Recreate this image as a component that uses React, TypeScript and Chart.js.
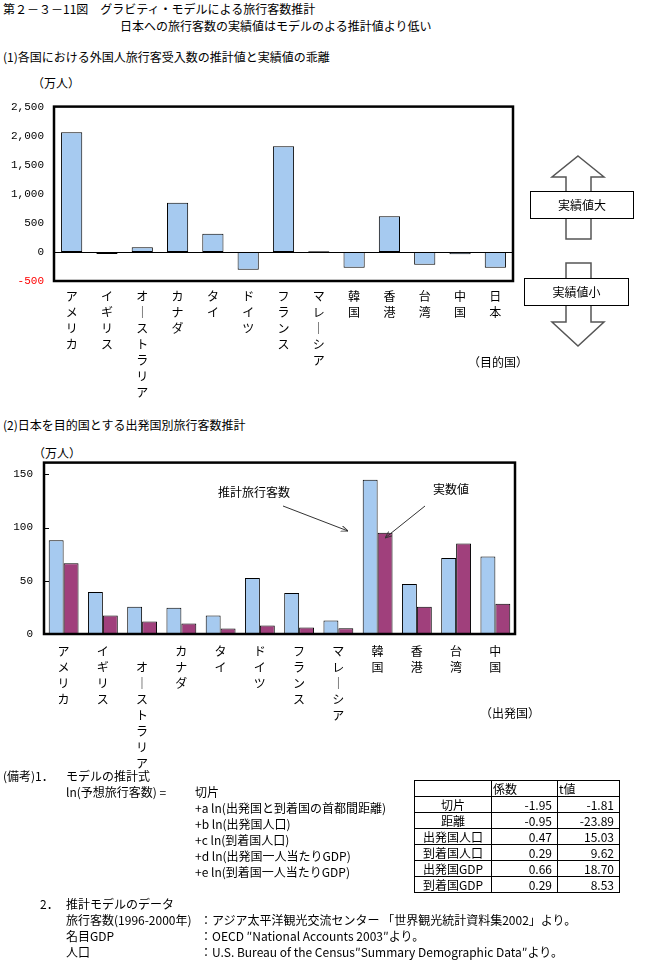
import React, { useEffect, useRef } from 'react';
import { Chart, registerables } from 'chart.js';

Chart.register(...registerables);

// ---------- data ----------
const destCountries = ['アメリカ', 'イギリス', 'オーストラリア', 'カナダ', 'タイ', 'ドイツ', 'フランス', 'マレーシア', '韓国', '香港', '台湾', '中国', '日本'];
const gapValues = [2060, -35, 80, 845, 312, -305, 1817, 12, -272, 612, -222, -38, -272];
const gapMin = -500;
const gapMax = 2500;
const gapStep = 500;

const originCountries = ['アメリカ', 'イギリス', 'オーストラリア', 'カナダ', 'タイ', 'ドイツ', 'フランス', 'マレーシア', '韓国', '香港', '台湾', '中国'];
const estimatedVisitors = [88, 39.5, 25.6, 24.7, 17.3, 52.5, 38.6, 12.7, 145, 47, 71.3, 72.9];
const actualVisitors = [66.4, 17.3, 11.7, 9.9, 5.2, 8, 6.2, 5.3, 95, 25.6, 84.9, 28.4];
const visMin = 0;
const visMax = 161;
const visStep = 50;

const tableRowNames = ['切片', '距離', '出発国人口', '到着国人口', '出発国GDP', '到着国GDP'];
const tableCoef = ['-1.95', '-0.95', '0.47', '0.29', '0.66', '0.29'];
const tableT = ['-1.81', '-23.89', '15.03', '9.62', '18.70', '8.53'];

// ---------- style ----------
const JP = '"Noto Sans CJK JP", "Noto Sans", sans-serif';
const MONO = '"Liberation Mono", "DejaVu Sans Mono", monospace';
const BLUE = '#A6CAF0';
const PLUM = '#A0407C';

const vertical = (s: string, lead = false) => {
  const chars = s.split('').map((c) => (c === 'ー' ? '｜' : c));
  return lead ? [' ', ...chars] : chars;
};

const framePlugin = {
  id: 'frame',
  beforeDatasetsDraw(chart: any, _a: any, opts: any) {
    if (!opts.zeroLine) return;
    const { ctx, chartArea: a, scales } = chart;
    const y = Math.round(scales.y.getPixelForValue(0)) + 0.5;
    ctx.save();
    ctx.strokeStyle = '#000';
    ctx.lineWidth = 1;
    ctx.beginPath();
    ctx.moveTo(a.left, y);
    ctx.lineTo(a.right, y);
    ctx.stroke();
    ctx.restore();
  },
  afterDatasetsDraw(chart: any, _a: any, opts: any) {
    const { ctx, chartArea: a, scales } = chart;
    ctx.save();
    ctx.strokeStyle = '#000';
    if (opts.innerTicks) {
      ctx.lineWidth = 1;
      scales.y.ticks.forEach((t: any) => {
        const y = Math.round(scales.y.getPixelForValue(t.value)) + 0.5;
        ctx.beginPath();
        ctx.moveTo(a.left, y);
        ctx.lineTo(a.left + 5, y);
        ctx.stroke();
      });
    }
    ctx.lineWidth = 2.5;
    ctx.strokeRect(a.left, a.top, a.right - a.left, a.bottom - a.top);
    ctx.restore();
  },
};

function GapChart() {
  const ref = useRef<HTMLCanvasElement>(null);
  useEffect(() => {
    const chart = new Chart(ref.current!, {
      type: 'bar',
      data: {
        labels: destCountries.map((c) => vertical(c)),
        datasets: [
          {
            data: gapValues,
            backgroundColor: BLUE,
            borderColor: '#000',
            borderWidth: 1,
            borderSkipped: false,
            categoryPercentage: 0.6,
            barPercentage: 1,
          },
        ],
      },
      options: {
        animation: false,
        responsive: false,
        maintainAspectRatio: false,
        layout: { padding: { top: 11, right: 7, left: 0, bottom: 0 } },
        plugins: { legend: { display: false }, tooltip: { enabled: false }, frame: { zeroLine: true } } as any,
        scales: {
          x: {
            grid: { display: false, drawTicks: false },
            border: { display: false },
            ticks: {
              autoSkip: false,
              maxRotation: 0,
              minRotation: 0,
              padding: 7,
              color: '#000',
              font: { family: JP, size: 12, lineHeight: 16 / 12 },
            },
            afterFit: (s: any) => {
              s.height = 129;
            },
          },
          y: {
            min: gapMin,
            max: gapMax,
            grid: { display: false, drawTicks: false },
            border: { display: false },
            ticks: {
              stepSize: gapStep,
              padding: 10,
              font: { family: MONO, size: 11 },
              color: (c: any) => (c.tick && c.tick.value < 0 ? '#FF0000' : '#000'),
              callback: (v: any) => Number(v).toLocaleString('en-US'),
            },
            afterFit: (s: any) => {
              s.width = 54;
            },
          },
        },
      },
      plugins: [framePlugin],
    });
    return () => chart.destroy();
  }, []);
  return <canvas ref={ref} width={520} height={320} style={{ position: 'absolute', left: 0, top: 90, width: 520, height: 320 }} />;
}

function VisitorsChart() {
  const ref = useRef<HTMLCanvasElement>(null);
  useEffect(() => {
    const chart = new Chart(ref.current!, {
      type: 'bar',
      data: {
        labels: originCountries.map((c) => vertical(c, c === 'オーストラリア')),
        datasets: [
          {
            label: '推計旅行客数',
            data: estimatedVisitors,
            backgroundColor: BLUE,
            borderColor: '#000',
            borderWidth: 1,
            borderSkipped: false,
            categoryPercentage: 0.76,
            barPercentage: 1,
          },
          {
            label: '実数値',
            data: actualVisitors,
            backgroundColor: PLUM,
            borderColor: '#000',
            borderWidth: 1,
            borderSkipped: false,
            categoryPercentage: 0.76,
            barPercentage: 1,
          },
        ],
      },
      options: {
        animation: false,
        responsive: false,
        maintainAspectRatio: false,
        layout: { padding: { top: 15, right: 10, left: 0, bottom: 0 } },
        plugins: { legend: { display: false }, tooltip: { enabled: false }, frame: { innerTicks: true } } as any,
        scales: {
          x: {
            grid: { display: false, drawTicks: false },
            border: { display: false },
            ticks: {
              autoSkip: false,
              maxRotation: 0,
              minRotation: 0,
              padding: 9,
              color: '#000',
              font: { family: JP, size: 12, lineHeight: 16 / 12 },
            },
            afterFit: (s: any) => {
              s.height = 141;
            },
          },
          y: {
            min: visMin,
            max: visMax,
            grid: { display: false, drawTicks: false },
            border: { display: false },
            ticks: {
              stepSize: visStep,
              includeBounds: false,
              padding: 11,
              font: { family: MONO, size: 11 },
              color: '#000',
            },
            afterFit: (s: any) => {
              s.width = 44;
            },
          },
        },
      },
      plugins: [framePlugin],
    });
    return () => chart.destroy();
  }, []);
  return <canvas ref={ref} width={525} height={330} style={{ position: 'absolute', left: 0, top: 445, width: 525, height: 330 }} />;
}

function T({ x, y, children, center, font }: { x: number; y: number; children: any; center?: boolean; font?: string }) {
  return (
    <div
      style={{
        position: 'absolute',
        left: x,
        top: y - 8,
        height: 16,
        lineHeight: '16px',
        fontSize: 12,
        fontFamily: font || JP,
        whiteSpace: 'pre',
        color: '#000',
        transform: center ? 'translateX(-50%)' : undefined,
      }}
    >
      {children}
    </div>
  );
}

function Decorations() {
  return (
    <svg width={661} height={977} style={{ position: 'absolute', left: 0, top: 0, pointerEvents: 'none' }}>
      <defs>
        <marker id="ah" viewBox="0 0 10 10" refX="10" refY="5" markerWidth="7" markerHeight="7" orient="auto-start-reverse">
          <path d="M0,1 L10,5 L0,9" fill="none" stroke="#333" strokeWidth="1.3" />
        </marker>
      </defs>
      {/* up arrow */}
      <polygon points="578,156 604,177 591,177 591,239 566,239 566,177 552,177" fill="#fff" stroke="#555" strokeWidth={1.5} />
      <rect x={530.5} y={191.5} width={103} height={27} fill="#fff" stroke="#000" strokeWidth={1} />
      {/* down arrow */}
      <polygon points="566,263 591,263 591,322 604,322 578,346 552,322 566,322" fill="#fff" stroke="#555" strokeWidth={1.5} />
      <rect x={524.5} y={278.5} width={104} height={27} fill="#fff" stroke="#000" strokeWidth={1} />
      {/* annotation arrows */}
      <line x1={283} y1={506} x2={348} y2={531} stroke="#333" strokeWidth={1} markerEnd="url(#ah)" />
      <line x1={425} y1={506} x2={385} y2={538} stroke="#333" strokeWidth={1} markerEnd="url(#ah)" />
    </svg>
  );
}

function CoefTable() {
  const cell = { border: '1px solid #000', padding: 0, height: 15, lineHeight: '15px', fontSize: 12, fontFamily: JP } as any;
  return (
    <table style={{ position: 'absolute', left: 414, top: 780, borderCollapse: 'collapse', tableLayout: 'fixed' }}>
      <colgroup>
        <col style={{ width: 77 }} />
        <col style={{ width: 66 }} />
        <col style={{ width: 62 }} />
      </colgroup>
      <tbody>
        <tr>
          <td style={cell}></td>
          <td style={{ ...cell, textAlign: 'left', paddingLeft: 1 }}>係数</td>
          <td style={{ ...cell, textAlign: 'left', paddingLeft: 1 }}>t値</td>
        </tr>
        {tableRowNames.map((n, i) => (
          <tr key={n}>
            <td style={{ ...cell, textAlign: 'center' }}>{n}</td>
            <td style={{ ...cell, textAlign: 'right', paddingRight: 5 }}>{tableCoef[i]}</td>
            <td style={{ ...cell, textAlign: 'right', paddingRight: 5 }}>{tableT[i]}</td>
          </tr>
        ))}
      </tbody>
    </table>
  );
}

export default function App() {
  return (
    <div style={{ position: 'absolute', left: 0, top: 0, width: 661, height: 977, background: '#fff', overflow: 'hidden' }}>
      <T x={3} y={9}>第２－３－11図　グラビティ・モデルによる旅行客数推計</T>
      <T x={120} y={26}>日本への旅行客数の実績値はモデルのよる推計値より低い</T>
      <T x={3} y={57}>(1)各国における外国人旅行客受入数の推計値と実績値の乖離</T>
      <T x={32} y={83}>（万人）</T>
      <GapChart />
      <T x={468} y={362}>（目的国）</T>

      <T x={3} y={425}>(2)日本を目的国とする出発国別旅行客数推計</T>
      <T x={33} y={453}>（万人）</T>
      <VisitorsChart />
      <T x={480} y={713}>（出発国）</T>
      <T x={218} y={492}>推計旅行客数</T>
      <T x={433} y={489}>実数値</T>

      <Decorations />
      <T x={582} y={205} center>実績値大</T>
      <T x={576.5} y={292} center>実績値小</T>

      <T x={3} y={776}>(備考)1．</T>
      <T x={66} y={776}>モデルの推計式</T>
      <T x={66} y={792}>ln(予想旅行客数) =</T>
      <T x={195} y={792}>切片</T>
      <T x={195} y={808}>+a ln(出発国と到着国の首都間距離)</T>
      <T x={195} y={824}>+b ln(出発国人口)</T>
      <T x={195} y={840}>+c ln(到着国人口)</T>
      <T x={195} y={856}>+d ln(出発国一人当たりGDP)</T>
      <T x={195} y={872}>+e ln(到着国一人当たりGDP)</T>
      <CoefTable />

      <T x={40} y={904}>2．</T>
      <T x={66} y={904}>推計モデルのデータ</T>
      <T x={66} y={920}>旅行客数(1996-2000年)</T>
      <T x={200} y={920}>：アジア太平洋観光交流センター 「世界観光統計資料集2002」より。</T>
      <T x={66} y={936}>名目GDP</T>
      <T x={200} y={936}>：OECD ″National Accounts 2003″より。</T>
      <T x={66} y={952}>人口</T>
      <T x={200} y={952}>：U.S. Bureau of the Census″Summary Demographic Data″より。</T>
    </div>
  );
}
